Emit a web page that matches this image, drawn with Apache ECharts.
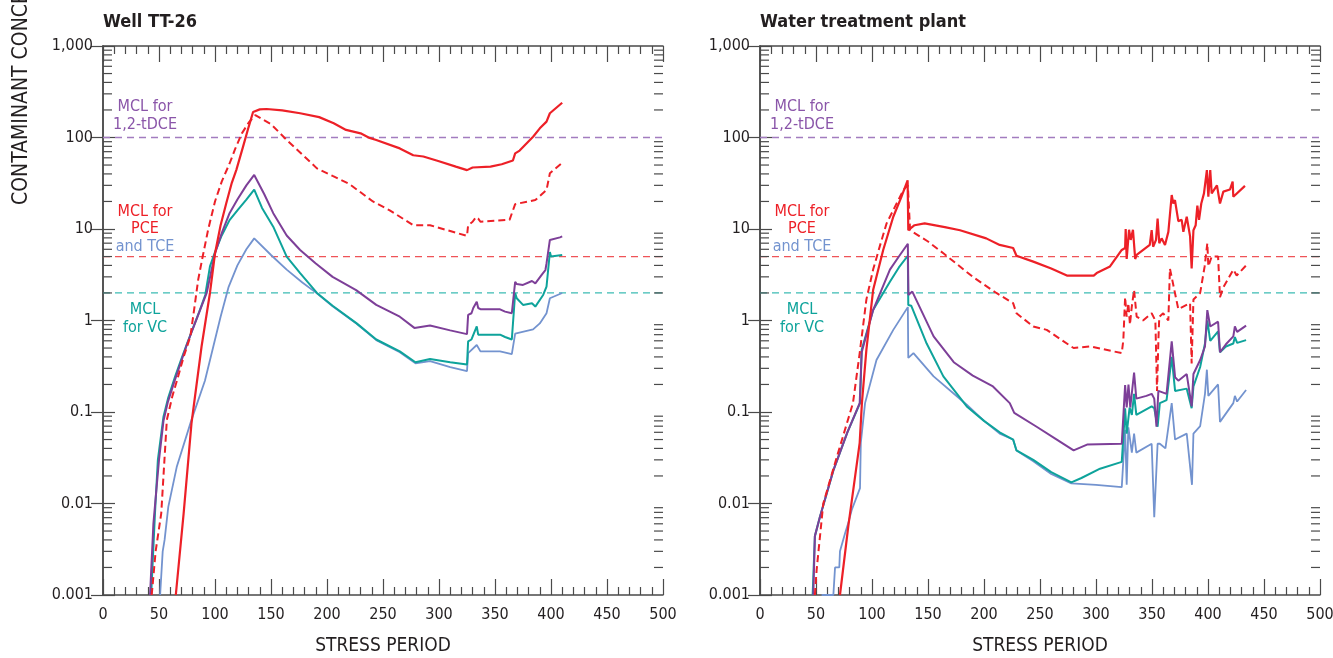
<!DOCTYPE html>
<html>
<head>
<meta charset="utf-8">
<script src="https://cdn.jsdelivr.net/npm/echarts@6/dist/echarts.min.js"></script>
<style>
  html, body { margin: 0; padding: 0; background: #fff; }
  #main { width: 1333px; height: 658px; }
</style>
</head>
<body>
<div id="main"></div>
<script>
// Well TT-26 panel [stress period, concentration]
var wellPCE = [[65,0.001],[72,0.0078],[79,0.075],[88,0.52],[95.5,2.0],[100,5.4],[105,11],[110,19],[115,32],[119,44],[125,79],[130,130],[134,190],[140,203],[146,205],[160,198],[176,184],[193,167],[206,143],[217,121],[230,111],[238,99],[244,94],[265,76],[277,64],[286,62],[300,55],[315,48],[325,44],[330,47],[346,48],[356,51],[366,56],[368,67],[372,72],[384,102],[390,126],[396,149],[399,184],[410,240]];
var wellTCE = [[43.5,0.001],[47,0.003],[52,0.0078],[57,0.082],[62,0.15],[66,0.22],[72,0.4],[78,0.67],[82,1.5],[85,2.8],[89,5],[94,10],[100,20],[106,33],[113,52],[118,75],[124,111],[130,145],[136,176],[150,140],[164,94],[178,65],[191,46],[205,38],[220,31],[241,20],[256,16],[277,11],[292,11],[310,9.5],[325,8.4],[326,11],[330,12],[333,13.5],[335,13],[337,12],[363,12.6],[368,18.7],[386,20.7],[396,26.7],[399,40.6],[410,53]];
var wellDCE = [[42,0.001],[45,0.006],[50,0.03],[54,0.08],[58,0.13],[64,0.22],[75,0.55],[85,1.15],[92.6,2.0],[100,5.4],[106,9],[113,14.9],[120,21],[128,30],[135,39],[144,24],[152,14.9],[164,8.5],[176,5.9],[190,4.2],[205,3.0],[226,2.15],[244,1.48],[265,1.1],[278,0.83],[292,0.88],[310,0.78],[325,0.71],[326,1.15],[329,1.2],[330.6,1.37],[333.7,1.6],[335,1.37],[337,1.33],[354,1.33],[359,1.25],[365,1.2],[368,2.65],[369.4,2.5],[375,2.45],[383,2.7],[386,2.55],[392,3.2],[395,3.56],[396,4.2],[399,7.6],[408,8.1],[410,8.3]];
var wellVC = [[43,0.001],[46.4,0.0078],[49,0.03],[54,0.089],[58,0.14],[64.3,0.243],[70,0.38],[79,0.75],[86,1.25],[91.3,1.9],[95.5,3.9],[100,5.6],[106,8.5],[113,12.5],[120,16],[128,21],[135,27],[142,17],[152,10.6],[164,5],[176,3.3],[191,2.0],[205,1.45],[226.5,0.93],[244,0.62],[265,0.46],[279,0.35],[292,0.38],[310,0.35],[325,0.33],[326,0.59],[329,0.62],[333.7,0.86],[335,0.7],[337,0.7],[354.5,0.7],[359,0.66],[365,0.62],[368,2.0],[369.4,1.75],[375,1.48],[383,1.54],[386,1.42],[393,1.9],[396,2.34],[399,5.6],[400,5.0],[410,5.2]];
var wellCDCE = [[51,0.001],[53.3,0.003],[55,0.004],[58.3,0.0092],[65.8,0.025],[79,0.082],[91,0.22],[98.5,0.52],[105,1.1],[112,2.3],[120,4],[128,6],[135,7.9],[150,5.2],[164,3.6],[178,2.6],[191,1.98],[205,1.43],[226.5,0.92],[244,0.61],[265,0.45],[279,0.34],[292,0.36],[310,0.31],[325,0.28],[326,0.44],[333.7,0.54],[337,0.46],[354.5,0.46],[365,0.43],[368,0.72],[384,0.8],[390,0.93],[396,1.2],[399,1.75],[410,2.0]];

// Water treatment plant panel
var wtpPCE = [[71.4,0.001],[78.8,0.0056],[89,0.046],[91,0.126],[95,0.48],[101,2.15],[110,5.9],[119,13.6],[126,22],[131.8,34],[132.4,9.7],[138,11],[147,11.5],[165,10.5],[178.6,9.7],[202,7.9],[214,6.7],[226,6.2],[229,5.1],[244,4.4],[260,3.7],[274,3.1],[298,3.1],[300.6,3.3],[312.5,3.9],[323,5.9],[326,6.2],[326.5,10],[327.4,4.7],[329.5,9.8],[331,7.6],[333,9.8],[335,4.7],[336.3,5.2],[348,6.7],[349.7,9.7],[351,6.4],[353.6,7.6],[355,13],[356.5,7.0],[358.6,7.9],[361.6,6.7],[364.6,9.3],[367.6,23.5],[369,19],[370.5,20.7],[373.5,12.2],[376.5,12.6],[378,9.3],[381,13.6],[384,8.3],[385.4,3.7],[387,9.7],[389,11],[390.5,18],[392,12.6],[394,19],[396.4,24.5],[399,44],[400.3,22.5],[402,44],[403.3,24.5],[408,30],[410.7,19],[413.7,25.6],[419.6,27],[422,33],[422.6,22.5],[433,29.6]];
var wtpTCE = [[49,0.001],[50.6,0.0019],[56.5,0.01],[68.5,0.032],[83,0.125],[89,0.44],[95,1.7],[101,3.6],[107,6.5],[113,11.5],[120,17],[128,26.7],[132,30],[134,9.7],[150,7.3],[164,5.4],[190,3],[211,2.0],[226,1.55],[229,1.2],[244,0.86],[256,0.79],[280,0.5],[295,0.52],[323,0.44],[324.4,0.61],[326,1.8],[327.4,1.1],[328.9,1.55],[330.3,0.9],[331.9,1.4],[334,2.15],[336.3,1.1],[342,1.0],[349.7,1.2],[353,1.0],[354.5,0.17],[355.7,0.61],[356.5,1.1],[360,1.2],[364.6,1.0],[366,3.7],[370.5,2.0],[373.5,1.33],[384,1.55],[385.4,0.34],[387,1.7],[393,2.0],[397,3.9],[399.4,7.0],[400.3,3.9],[403.3,5.0],[409,5.0],[410.7,1.8],[413.7,2.3],[422.6,3.6],[425.6,3.1],[434,4.0]];
var wtpDCE = [[47.6,0.001],[49,0.0044],[53.6,0.0072],[65.5,0.023],[78,0.06],[89,0.125],[90.8,0.45],[101,1.3],[116,3.6],[124,5.0],[132,6.9],[132.5,1.9],[136,2.07],[155,0.67],[173,0.35],[190,0.25],[208,0.19],[223,0.125],[227,0.098],[247,0.069],[265,0.05],[280,0.038],[292,0.044],[323,0.045],[326,0.197],[327.4,0.112],[329,0.2],[330.6,0.112],[334,0.27],[336,0.14],[345,0.15],[349.7,0.158],[352,0.14],[354,0.069],[355.7,0.17],[363,0.158],[367.6,0.59],[370.6,0.24],[373.5,0.22],[381,0.26],[385.4,0.115],[387,0.26],[393,0.37],[397.3,0.52],[399.4,1.3],[402,0.86],[409,0.97],[410.7,0.45],[416,0.55],[422.6,0.67],[424,0.86],[426,0.75],[434,0.88]];
var wtpVC = [[47,0.001],[49,0.0044],[53.6,0.0072],[65.5,0.023],[78,0.06],[89.3,0.125],[90.8,0.48],[101,1.3],[116,2.65],[124,3.8],[132,5.1],[132.4,1.48],[135,1.45],[148.8,0.56],[163.7,0.245],[184.6,0.115],[200,0.08],[214,0.06],[226,0.05],[229,0.038],[244,0.03],[260,0.022],[278,0.017],[287,0.019],[303.6,0.024],[323,0.0285],[326,0.11],[327.4,0.058],[330,0.112],[332,0.093],[334,0.158],[336,0.093],[349.7,0.115],[352,0.11],[355,0.069],[357,0.125],[363,0.135],[367.6,0.4],[370.6,0.17],[381,0.18],[385.4,0.11],[387,0.19],[393,0.31],[397.3,0.56],[399.4,1.0],[402,0.6],[409,0.76],[410.7,0.45],[416,0.52],[422.6,0.56],[424,0.66],[426,0.57],[434,0.61]];
var wtpCDCE = [[55,0.001],[65.5,0.001],[67,0.002],[70.8,0.002],[71.4,0.003],[75.9,0.0047],[78.8,0.0061],[81.9,0.0085],[89.3,0.0147],[90,0.046],[93.8,0.125],[104,0.37],[119,0.79],[132,1.4],[132.4,0.39],[137,0.44],[155,0.245],[184.6,0.12],[200,0.08],[214,0.058],[226,0.05],[229,0.038],[244,0.029],[260,0.021],[278,0.0166],[300,0.016],[323,0.0151],[326,0.064],[327.4,0.016],[328.9,0.068],[332,0.036],[334,0.058],[336,0.036],[349.7,0.045],[352,0.0071],[355,0.045],[357,0.045],[362,0.04],[367.6,0.125],[370.6,0.05],[381,0.058],[385.7,0.016],[387,0.058],[393,0.07],[397.3,0.158],[399,0.29],[400.3,0.15],[409,0.2],[410.7,0.078],[422.6,0.125],[424,0.15],[426,0.13],[434,0.174]];

// MCL reference levels
var mclDCE = 100;
var mclPCE = 5;
var mclVC = 2;

// axis ticks
var xTickStep = 50;
var decadeLabels = { '-3': '0.001', '-2': '0.01', '-1': '0.1', '0': '1', '1': '10', '2': '100', '3': '1,000' };
var minorMultipliers = [2, 3, 4, 5, 6, 7, 8, 9];
var decades = [0.001, 0.01, 0.1, 1, 10, 100];

var FONT = "'Liberation Sans Narrow', 'Arial Narrow', 'DejaVu Sans Condensed', sans-serif";
var INK = '#231f20';
var AXIS = '#4a4a4a';
var RED = '#ed2027';
var PURPLE = '#7d3f98';
var TEAL = '#0ea39b';
var BLUE = '#7393cf';

var minorTicks = [];
decades.forEach(function (d) {
  minorMultipliers.forEach(function (m) { minorTicks.push([0, +(m * d).toPrecision(3)]); });
});

var chart = echarts.init(document.getElementById('main'));

function xAxisFor(grid, top) {
  return {
    gridIndex: grid, type: 'value', position: top ? 'top' : 'bottom',
    min: 0, max: 500, interval: xTickStep,
    axisLine: { show: true, onZero: false, lineStyle: { color: AXIS, width: 1.5 } },
    axisTick: { show: true, inside: true, length: 16, lineStyle: { color: AXIS, width: 1.2 } },
    minorTick: { show: true, splitNumber: 5, length: 8, lineStyle: { color: AXIS, width: 1.2 } },
    splitLine: { show: false },
    axisLabel: { show: !top, margin: 12, color: INK, fontSize: 16, fontFamily: FONT },
    name: top ? '' : 'STRESS PERIOD', nameLocation: 'middle', nameGap: 42,
    nameTextStyle: { color: INK, fontSize: 19, fontFamily: FONT }
  };
}

function yAxisFor(grid, right) {
  return {
    gridIndex: grid, type: 'log', logBase: 10, position: right ? 'right' : 'left',
    min: 0.001, max: 1000, splitNumber: 6,
    axisLine: { show: true, lineStyle: { color: AXIS, width: 1.5 } },
    axisTick: { show: true, inside: true, length: 12, lineStyle: { color: AXIS, width: 1.2 } },
    splitLine: { show: false },
    axisLabel: {
      show: !right, margin: 10, color: INK, fontSize: 16, fontFamily: FONT,
      formatter: function (v) { return decadeLabels[String(Math.round(Math.log10(v)))] || ''; }
    }
  };
}

function minorTickSeries(grid) {
  return {
    type: 'custom', xAxisIndex: grid * 2, yAxisIndex: grid * 2, silent: true, clip: false,
    data: minorTicks,
    renderItem: function (params, api) {
      var l = api.coord([0, api.value(1)]);
      var r = api.coord([500, api.value(1)]);
      var st = { stroke: AXIS, lineWidth: 1.2 };
      return {
        type: 'group', children: [
          { type: 'line', shape: { x1: l[0], y1: l[1], x2: l[0] + 9, y2: l[1] }, style: st },
          { type: 'line', shape: { x1: r[0] - 9, y1: r[1], x2: r[0], y2: r[1] }, style: st }
        ]
      };
    }
  };
}

function mclSeries(grid, level, color) {
  return {
    type: 'line', xAxisIndex: grid * 2, yAxisIndex: grid * 2, silent: true, showSymbol: false,
    data: [[0, level], [500, level]],
    lineStyle: { color: color, width: 1.3, type: [7, 5] }, z: 1
  };
}

function dataSeries(grid, data, color, dashed, width) {
  return {
    type: 'line', xAxisIndex: grid * 2, yAxisIndex: grid * 2, showSymbol: false, silent: true,
    data: data, clip: true,
    lineStyle: { color: color, width: width || 2, type: dashed ? [7, 4] : 'solid' }, z: 3
  };
}

function panelSeries(grid, cdce, vc, dce, tce, pce) {
  return [
    minorTickSeries(grid),
    mclSeries(grid, mclDCE, '#a27cbf'),
    mclSeries(grid, mclPCE, '#ef5458'),
    mclSeries(grid, mclVC, '#3dbcb4'),
    dataSeries(grid, cdce, BLUE, false, 1.8),
    dataSeries(grid, vc, TEAL, false, 2),
    dataSeries(grid, dce, PURPLE, false, 2),
    dataSeries(grid, tce, RED, true, 2),
    dataSeries(grid, pce, RED, false, 2.2)
  ];
}

function label(x, y, text, color) {
  return { type: 'text', x: x, y: y, style: { text: text, fill: color, font: '16px ' + FONT, textAlign: 'center', textVerticalAlign: 'middle' } };
}

function panelLabels(cx) {
  return [
    label(cx, 107, 'MCL for', '#8a55a9'),
    label(cx, 125, '1,2-tDCE', '#8a55a9'),
    label(cx, 212, 'MCL for', RED),
    label(cx, 229, 'PCE', RED),
    label(cx, 247, 'and TCE', BLUE),
    label(cx, 310, 'MCL', TEAL),
    label(cx, 328, 'for VC', TEAL)
  ];
}

var option = {
  animation: false,
  backgroundColor: '#fff',
  grid: [
    { left: 103, top: 46, width: 560, height: 549, outerBoundsMode: 'none' },
    { left: 760, top: 46, width: 560, height: 549, outerBoundsMode: 'none' }
  ],
  xAxis: [xAxisFor(0, false), xAxisFor(0, true), xAxisFor(1, false), xAxisFor(1, true)],
  yAxis: [yAxisFor(0, false), yAxisFor(0, true), yAxisFor(1, false), yAxisFor(1, true)],
  series: panelSeries(0, wellCDCE, wellVC, wellDCE, wellTCE, wellPCE)
    .concat(panelSeries(1, wtpCDCE, wtpVC, wtpDCE, wtpTCE, wtpPCE)),
  graphic: [
    { type: 'text', x: 103, y: 22, style: { text: 'Well TT-26', fill: INK, font: 'bold 18px ' + FONT, textVerticalAlign: 'middle' } },
    { type: 'text', x: 760, y: 22, style: { text: 'Water treatment plant', fill: INK, font: 'bold 18px ' + FONT, textVerticalAlign: 'middle' } },
    { type: 'text', x: 22, y: 205, rotation: Math.PI / 2,
      style: { text: 'CONTAMINANT CONCENTRATION, IN MICROGRAMS PER LITER', fill: INK, font: '21px ' + FONT, textAlign: 'left', textVerticalAlign: 'middle' } }
  ].concat(panelLabels(145)).concat(panelLabels(802))
};

chart.setOption(option);
</script>
</body>
</html>
